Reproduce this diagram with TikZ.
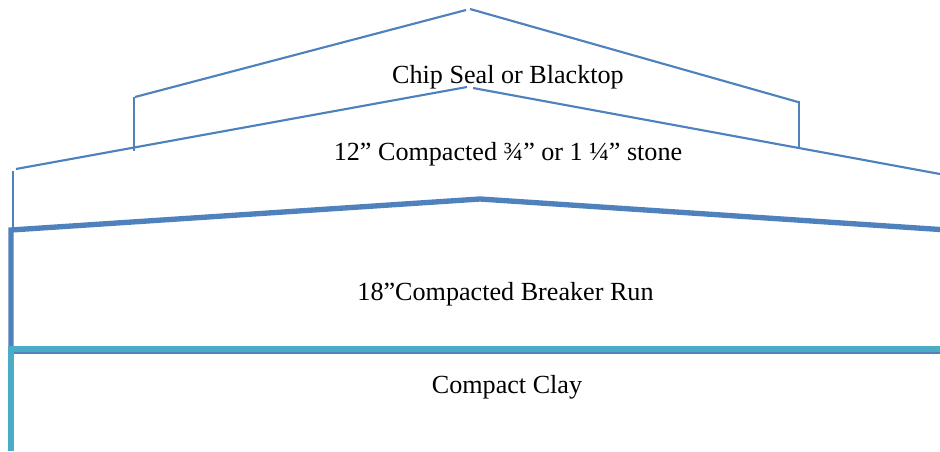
\documentclass[tikz,border=0pt]{standalone}
\usepackage{fontspec}
\setmainfont{Liberation Serif}
\usetikzlibrary{arrows}

\definecolor{layerblue}{HTML}{4F81BD}
\definecolor{claycyan}{HTML}{4BACC6}

\begin{document}
\begin{tikzpicture}[x=0.75pt,y=-0.75pt,
                    thin line/.style={draw=layerblue,line width=1.6pt},
                    thick line/.style={draw=layerblue,line width=4pt},
                    clay line/.style={draw=claycyan,line width=4.2pt},
                    label node/.style={font=\fontsize{19.6}{22}\selectfont,inner sep=0pt}]
  \useasboundingbox (0,0) rectangle (940,451);

  %seal%
  \coordinate (s1) at (135,97);
  \coordinate (s2) at (466,10);
  \coordinate (s3) at (470,9);
  \coordinate (s4) at (798,102);
  \coordinate (s5) at (134,97);
  \coordinate (s6) at (134,151);
  \coordinate (s7) at (799,101);
  \coordinate (s8) at (799,148);

  %stone%
  \coordinate (t1) at (16,169);
  \coordinate (t2) at (467,87);
  \coordinate (t3) at (473,88);
  \coordinate (t4) at (940,174);
  \coordinate (t5) at (13,171);
  \coordinate (t6) at (13,229);

  %breaker run%
  \coordinate (b1) at (11,352);
  \coordinate (b2) at (11,230);
  \coordinate (b3) at (480,199);
  \coordinate (b4) at (940,229.5);
  \coordinate (b5) at (11,351.5);
  \coordinate (b6) at (940,351.5);

  %clay%
  \coordinate (c1) at (11,451);
  \coordinate (c2) at (11,349);
  \coordinate (c3) at (940,349);

  \path[thin line] (s1) -- (s2);
  \path[thin line] (s3) -- (s4);
  \path[thin line] (s5) -- (s6);
  \path[thin line] (s7) -- (s8);
  \path[thin line] (t1) -- (t2);
  \path[thin line] (t3) -- (t4);
  \path[thin line] (t5) -- (t6);
  \path[thick line] (b1) -- (b2) -- (b3) -- (b4);
  \path[thick line] (b5) -- (b6);
  \path[clay line] (c1) -- (c2) -- (c3);

  \node[label node] (seal) at (508,77) {Chip Seal or Blacktop};
  \node[label node] (stone) at (508,154) {12” Compacted ¾” or 1 ¼” stone};
  \node[label node] (run) at (505.5,294) {18”Compacted Breaker Run};
  \node[label node] (clay) at (507,387) {Compact Clay};
\end{tikzpicture}
\end{document}
